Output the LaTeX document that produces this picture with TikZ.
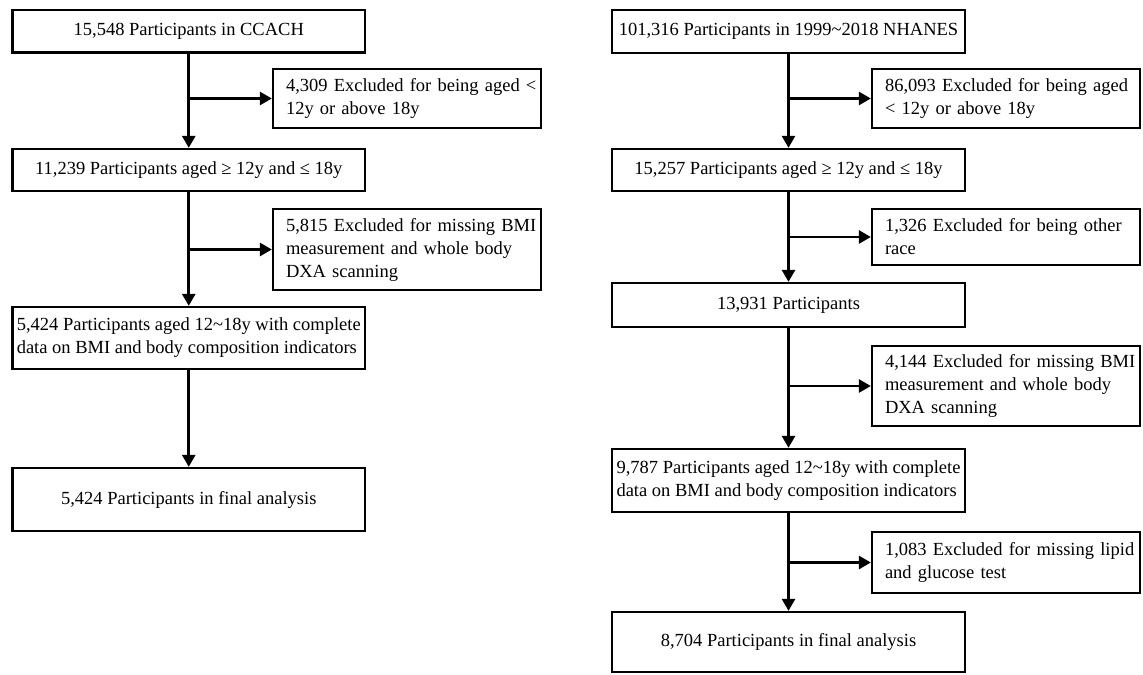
\documentclass[tikz,border=0pt]{standalone}
\usepackage{fontspec}
\setmainfont{Liberation Serif}
\usetikzlibrary{arrows.meta}

\begin{document}
\begin{tikzpicture}[x=0.5pt, y=-0.5pt,
    font=\fontsize{9.25pt}{11.5pt}\selectfont,
    mainbox/.style={draw, line width=1.15pt, minimum width=176.25pt, inner sep=2pt, align=center},
    exclbox/.style={draw, line width=1.15pt, text width=130pt, inner xsep=2pt, align=left,
      execute at begin node={\leftskip=4.5pt\relax}},
    flow/.style={line width=1.35pt, -{Triangle[length=6pt, width=6.5pt]}}]
  \useasboundingbox (0,0) rectangle (1143,674);

  % CCACH
  \node[mainbox, minimum height=21.3pt] (c1) at (188.75,31.3) {15,548 Participants in CCACH};
  \node[exclbox, minimum height=29.5pt] (ce1) at (407,98.5) {4,309 Excluded for being aged <\\12y or above 18y};
  \node[mainbox, minimum height=21pt] (c2) at (188.75,170) {11,239 Participants aged ≥ 12y and ≤ 18y};
  \node[exclbox, minimum height=40.5pt] (ce2) at (407,249.5) {5,815 Excluded for missing BMI\\measurement and whole body\\DXA scanning};
  \node[mainbox, minimum height=31pt, align=left] (c3) at (188.75,338) {5,424 Participants aged 12\textasciitilde18y with complete\\data on BMI and body composition indicators};
  \node[mainbox, minimum height=31.5pt] (c4) at (188.75,499.5) {5,424 Participants in final analysis};

  \draw[flow] (c1) -- (c2);
  \draw[flow] (c2) -- (c3);
  \draw[flow] (c3) -- (c4);
  \draw[flow] (ce1.west -| c1.south) -- (ce1.west);
  \draw[flow] (ce2.west -| c2.south) -- (ce2.west);

  % NHANES
  \node[mainbox, minimum height=21.5pt] (n1) at (788.5,31.5) {101,316 Participants in 1999\textasciitilde2018 NHANES};
  \node[exclbox, minimum height=29.5pt] (ne1) at (1006,98.5) {86,093 Excluded for being aged\\< 12y or above 18y};
  \node[mainbox, minimum height=21pt] (n2) at (788.5,170) {15,257 Participants aged ≥ 12y and ≤ 18y};
  \node[exclbox, minimum height=28pt] (ne2) at (1006,237) {1,326 Excluded for being other\\race};
  \node[mainbox, minimum height=22pt] (n3) at (788.5,305) {13,931 Participants};
  \node[exclbox, minimum height=40pt] (ne3) at (1006,386) {4,144 Excluded for missing BMI\\measurement and whole body\\DXA scanning};
  \node[mainbox, minimum height=31.5pt, align=left] (n4) at (788.5,480.5) {9,787 Participants aged 12\textasciitilde18y with complete\\data on BMI and body composition indicators};
  \node[exclbox, minimum height=30.5pt] (ne4) at (1006,562.5) {1,083 Excluded for missing lipid\\and glucose test};
  \node[mainbox, minimum height=30pt] (n5) at (788.5,642) {8,704 Participants in final analysis};

  \draw[flow] (n1) -- (n2);
  \draw[flow] (n2) -- (n3);
  \draw[flow] (n3) -- (n4);
  \draw[flow] (n4) -- (n5);
  \draw[flow] (ne1.west -| n1.south) -- (ne1.west);
  \draw[flow] (ne2.west -| n2.south) -- (ne2.west);
  \draw[flow] (ne3.west -| n3.south) -- (ne3.west);
  \draw[flow] (ne4.west -| n4.south) -- (ne4.west);
\end{tikzpicture}
\end{document}
